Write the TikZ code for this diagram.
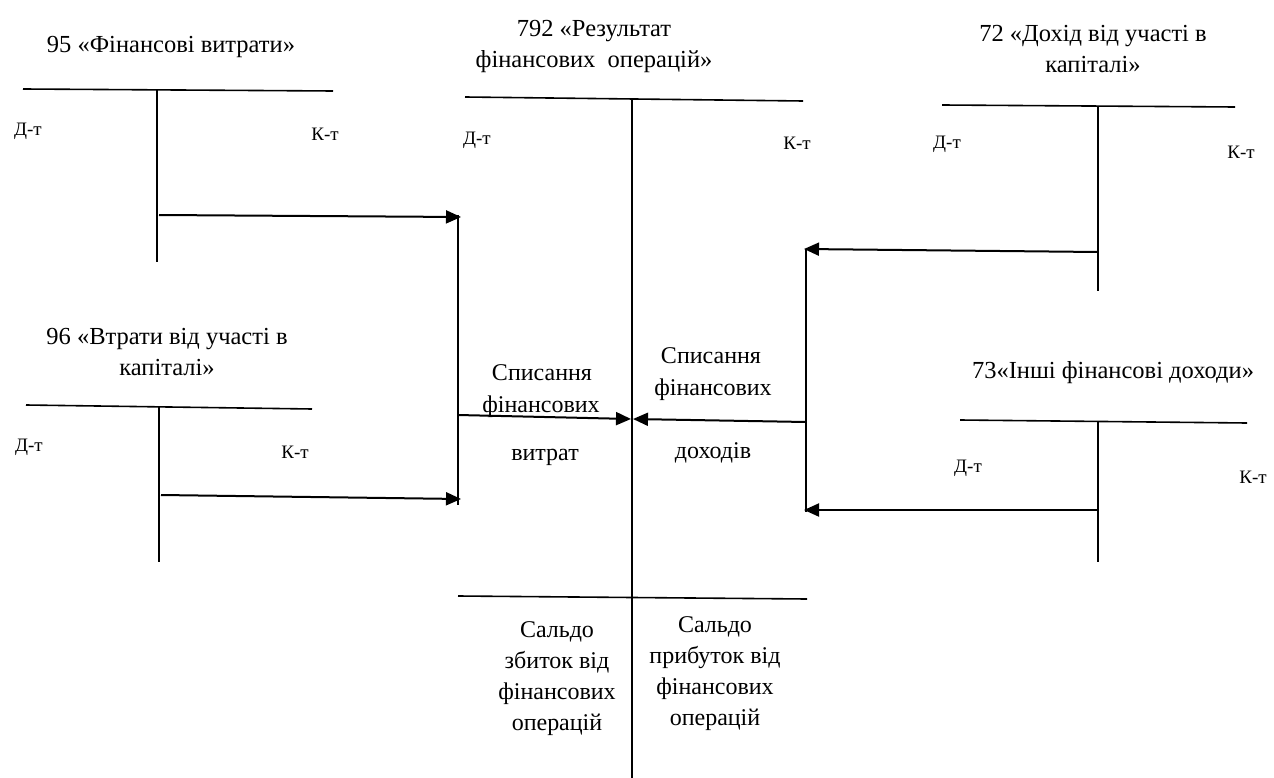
\documentclass[tikz,border=0pt]{standalone}
\usepackage{fontspec}
\setmainfont{Liberation Serif}
\usetikzlibrary{arrows.meta}
\begin{document}
\begin{tikzpicture}[x=1pt,y=-1pt,
  rule/.style={line width=1.6pt},
  flow/.style={line width=2pt,-{Triangle[length=15pt,width=13pt]}},
  title/.style={align=center,font=\fontsize{24.5}{31}\selectfont,inner sep=0pt},
  side/.style={font=\fontsize{19}{22}\selectfont,inner sep=0pt},
  body/.style={align=center,font=\fontsize{24}{31}\selectfont,inner sep=0pt},
  line/.style={font=\fontsize{24}{31}\selectfont,inner sep=0pt,anchor=base}]
\useasboundingbox (0,0) rectangle (1274,778);

% account 95
\node[title] (t95) at (171,47) {95 «Фінансові витрати»};
\coordinate (a95l) at (23,89); \coordinate (a95r) at (333,91);
\coordinate (a95t) at (157,90); \coordinate (a95b) at (157,262);
\draw[rule] (a95l) -- (a95r);
\draw[rule] (a95t) -- (a95b);
\node[side] (d95) at (28,131) {Д-т};
\node[side] (k95) at (325,134) {К-т};

% account 96
\node[title] (t96) at (167,352) {96 «Втрати від участі в\\капіталі»};
\coordinate (a96l) at (26,405); \coordinate (a96r) at (312,409);
\coordinate (a96t) at (159,406); \coordinate (a96b) at (159,562);
\draw[rule] (a96l) -- (a96r);
\draw[rule] (a96t) -- (a96b);
\node[side] (d96) at (29,447) {Д-т};
\node[side] (k96) at (295,452) {К-т};

% account 792
\node[title] (t792) at (594,46) {792 «Результат\\фінансових\ \ операцій»};
\coordinate (a792l) at (465,97); \coordinate (a792r) at (803,101);
\coordinate (a792t) at (632,99); \coordinate (a792b) at (632,778);
\coordinate (s792l) at (458,596); \coordinate (s792r) at (807,599);
\draw[rule] (a792l) -- (a792r);
\draw[rule] (a792t) -- (a792b);
\draw[rule] (s792l) -- (s792r);
\node[side] (d792) at (477,140) {Д-т};
\node[side] (k792) at (797,143) {К-т};

% account 72
\node[title] (t72) at (1093,49) {72 «Дохід від участі в\\капіталі»};
\coordinate (a72l) at (942,105); \coordinate (a72r) at (1235,107);
\coordinate (a72t) at (1098,107); \coordinate (a72b) at (1098,291);
\draw[rule] (a72l) -- (a72r);
\draw[rule] (a72t) -- (a72b);
\node[side] (d72) at (947,144) {Д-т};
\node[side] (k72) at (1241,152) {К-т};

% account 73
\node[title] (t73) at (1113,373) {73«Інші фінансові доходи»};
\coordinate (a73l) at (960,420); \coordinate (a73r) at (1247,423);
\coordinate (a73t) at (1098,421); \coordinate (a73b) at (1098,562);
\draw[rule] (a73l) -- (a73r);
\draw[rule] (a73t) -- (a73b);
\node[side] (d73) at (968,468) {Д-т};
\node[side] (k73) at (1253,477) {К-т};

% collectors on both sides of 792
\coordinate (cLt) at (458,215); \coordinate (cLb) at (458,505);
\coordinate (cRt) at (806,249); \coordinate (cRb) at (806,512);
\draw[rule] (cLt) -- (cLb);
\draw[rule] (cRt) -- (cRb);

% expense accounts into the left collector
\coordinate (o95) at (159,215); \coordinate (i95) at (461,217);
\coordinate (o96) at (161,495); \coordinate (i96) at (461,499);
\draw[flow] (o95) -- (i95);
\draw[flow] (o96) -- (i96);

% income accounts into the right collector
\coordinate (o72) at (1098,252); \coordinate (i72) at (804,249);
\coordinate (o73) at (1098,510); \coordinate (i73) at (804,510);
\draw[flow] (o72) -- (i72);
\draw[flow] (o73) -- (i73);

% write-offs into 792
\coordinate (oL) at (458,415); \coordinate (iL) at (631,419);
\coordinate (oR) at (806,422); \coordinate (iR) at (633,419);
\draw[flow] (oL) -- (iL);
\draw[flow] (oR) -- (iR);

% captions of the write-offs
\node[line] (wl1) at (542,380) {Списання};
\node[line] (wl2) at (541,412) {фінансових};
\node[line] (wl3) at (545,460) {витрат};
\node[line] (wr1) at (711,363) {Списання};
\node[line] (wr2) at (713,395) {фінансових};
\node[line] (wr3) at (713,458) {доходів};

% closing balances
\node[body] (bl) at (557,679) {Сальдо\\збиток від\\фінансових\\операцій};
\node[body] (br) at (715,674) {Сальдо\\прибуток від\\фінансових\\операцій};
\end{tikzpicture}
\end{document}
